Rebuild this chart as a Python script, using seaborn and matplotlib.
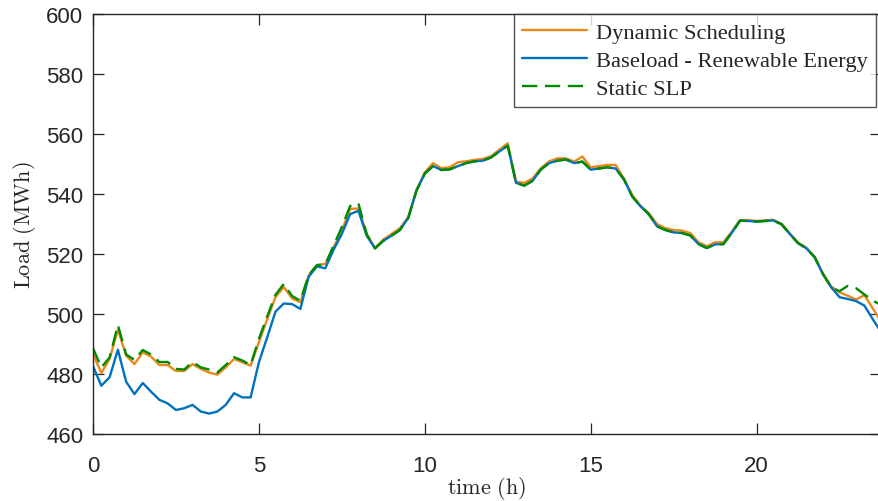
import numpy as np
import pandas as pd
import matplotlib
matplotlib.use("Agg")
import matplotlib.pyplot as plt
import seaborn as sns

# Quarter-hour load profile over one day (MWh)
time_h = np.arange(96) * 0.25

dynamic_scheduling = [
    486.7, 480.3, 485.0, 494.8, 486.1, 483.3, 487.2, 485.8, 483.0, 483.0, 481.0, 481.0,
    483.3, 481.7, 480.5, 479.8, 482.2, 485.0, 483.9, 482.8, 490.6, 498.3, 505.6, 509.0,
    505.2, 503.9, 512.8, 516.3, 516.7, 522.2, 527.8, 535.0, 535.2, 526.7, 521.9, 524.8,
    526.7, 528.6, 532.2, 541.4, 547.2, 550.3, 548.6, 548.9, 550.6, 550.9, 551.4, 551.7,
    552.6, 554.8, 556.9, 544.1, 543.7, 545.2, 548.6, 550.9, 551.9, 551.9, 550.8, 552.5,
    548.9, 549.3, 549.7, 549.7, 545.2, 539.7, 536.1, 533.6, 530.0, 528.6, 528.0, 527.8,
    527.0, 523.9, 522.6, 523.9, 523.9, 527.4, 531.3, 531.3, 531.0, 531.2, 531.4, 530.1,
    526.9, 523.8, 522.1, 519.1, 513.5, 509.2, 507.2, 506.1, 504.8, 506.3, 501.9, 497.5,
]

baseload_renewable = [
    482.6, 476.1, 478.9, 488.1, 477.4, 473.3, 477.0, 474.1, 471.4, 470.2, 468.0, 468.6,
    469.7, 467.5, 466.8, 467.5, 469.7, 473.6, 472.2, 472.2, 483.9, 492.2, 500.8, 503.5,
    503.3, 501.7, 512.4, 515.9, 515.2, 521.4, 526.7, 533.3, 534.4, 526.1, 521.9, 524.4,
    526.1, 528.0, 532.0, 541.1, 546.8, 549.3, 548.0, 548.2, 549.3, 550.3, 550.9, 551.1,
    552.2, 554.2, 556.1, 543.7, 542.8, 544.4, 548.2, 550.3, 551.1, 551.5, 550.3, 550.8,
    548.1, 548.5, 548.9, 548.5, 544.9, 539.2, 535.9, 533.3, 529.2, 528.0, 527.2, 527.0,
    526.2, 523.3, 522.0, 523.2, 523.3, 527.0, 531.1, 531.0, 530.8, 531.0, 531.2, 529.9,
    526.7, 523.6, 521.9, 518.9, 513.3, 508.9, 505.6, 505.0, 504.3, 502.8, 498.3, 494.0,
]

static_slp = [
    488.6, 482.2, 485.5, 496.3, 486.5, 484.7, 488.0, 486.5, 484.0, 484.0, 481.7, 481.5,
    484.0, 482.2, 481.5, 480.5, 483.0, 485.6, 484.5, 483.0, 491.7, 499.2, 506.4, 510.0,
    506.0, 504.4, 513.0, 516.3, 516.5, 522.8, 529.0, 536.0, 536.9, 526.5, 521.9, 524.4,
    526.1, 528.0, 532.0, 541.1, 546.8, 549.3, 548.0, 548.2, 549.3, 550.3, 550.9, 551.1,
    552.2, 554.2, 556.1, 543.7, 542.8, 544.4, 548.2, 550.3, 551.1, 551.5, 550.3, 550.8,
    548.1, 548.5, 548.9, 548.5, 544.9, 539.2, 535.9, 533.3, 529.2, 528.0, 527.2, 527.0,
    526.2, 523.3, 522.0, 523.2, 523.3, 527.0, 531.1, 531.0, 530.8, 531.0, 531.2, 529.9,
    526.7, 523.6, 521.9, 518.9, 513.3, 508.9, 507.6, 509.4, 508.6, 506.5, 504.5, 503.0,
]

series_names = ["Dynamic Scheduling", "Baseload - Renewable Energy", "Static SLP"]
series_colors = ["#E8891A", "#0072BD", "#008A00"]

y_ticks = [460, 480, 500, 520, 540, 560, 580, 600]
x_ticks = [0, 5, 10, 15, 20]

sns.set_theme(style="white")
plt.rcParams["mathtext.fontset"] = "cm"
plt.rcParams["lines.scale_dashes"] = False

fig = plt.figure(figsize=(8.79, 5.02), dpi=100)
ax = fig.add_axes([93 / 879, 1 - 435 / 502, 788 / 879, 420 / 502])

frames = []
for name, vals in zip(series_names, [dynamic_scheduling, baseload_renewable, static_slp]):
    frames.append(pd.DataFrame({"time": time_h, "load": vals, "series": name}))
df = pd.concat(frames, ignore_index=True)

for name, color in zip(series_names, series_colors):
    sub = df[df["series"] == name]
    sns.lineplot(data=sub, x="time", y="load", ax=ax, linewidth=1.7, color=color, label=name)
    if name == "Static SLP":
        ax.lines[-1].set_dashes((11, 5.5))

ax.set_xlim(0, 23.75)
ax.set_ylim(460, 600)
ax.set_xticks(x_ticks)
ax.set_yticks(y_ticks)

tick_font = ["Liberation Sans Narrow", "Liberation Sans", "DejaVu Sans"]
for lbl in ax.get_xticklabels() + ax.get_yticklabels():
    lbl.set_family(tick_font)
    lbl.set_fontsize(16)
    lbl.set_color("#262626")

ax.tick_params(axis="both", which="major", direction="in", length=8, width=0.9,
               color="#262626", top=True, right=True, bottom=True, left=True)
ax.tick_params(axis="x", pad=15)
ax.tick_params(axis="y", pad=7)
for side in ["left", "right", "top", "bottom"]:
    ax.spines[side].set_color("#262626")
    ax.spines[side].set_linewidth(1.0)

ax.set_xlabel(r"$\mathrm{time\ (h)}$", fontsize=16, color="#262626", labelpad=-1)
ax.set_ylabel(r"$\mathrm{Load\ (MWh)}$", fontsize=16, color="#262626", labelpad=6)

leg = ax.legend(loc="upper right", bbox_to_anchor=(876 / 879, 1 - 15 / 502),
                bbox_transform=fig.transFigure, borderaxespad=0,
                prop={"family": ["Liberation Serif", "DejaVu Serif"], "size": 16.2},
                frameon=True, fancybox=False, handlelength=2.9, handletextpad=0.4,
                labelspacing=0.33, borderpad=0.35)
leg.get_frame().set_edgecolor("#262626")
leg.get_frame().set_linewidth(1.0)

fig.savefig("out.png", dpi=100, facecolor="white")
